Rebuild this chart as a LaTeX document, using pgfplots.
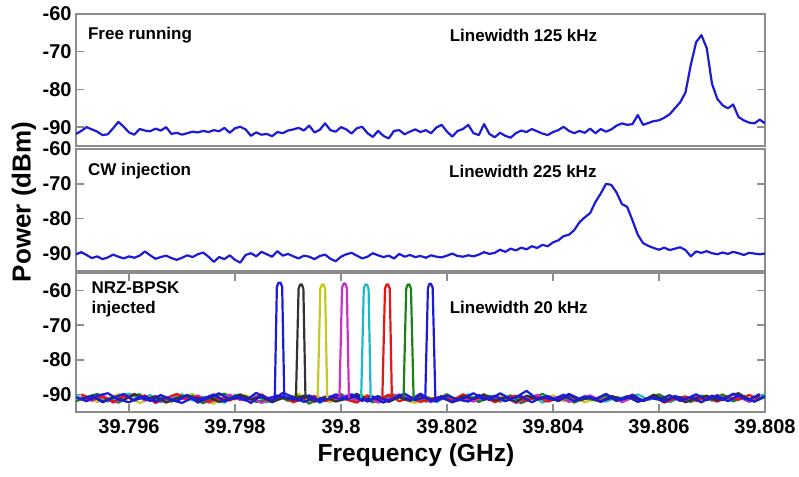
\documentclass[border=0pt]{standalone}
\usepackage{fontspec}
\setmainfont{Liberation Sans}
\usepackage{pgfplots}
\usepackage{pgfplotstable}
\pgfplotsset{compat=1.18}

\definecolor{mblue}{RGB}{28,28,215}
\definecolor{mblack}{RGB}{50,50,50}
\definecolor{myellow}{RGB}{200,200,30}
\definecolor{mmagenta}{RGB}{200,50,200}
\definecolor{mcyan}{RGB}{30,185,195}
\definecolor{mred}{RGB}{235,20,20}
\definecolor{mgreen}{RGB}{25,130,25}

% frequency as offset from 39.8 GHz, in MHz
% panel 1: free running
\pgfplotstableread{
y
-91.8
-91.0
-90.0
-90.6
-91.2
-92.1
-91.9
-90.3
-88.6
-89.9
-91.4
-92.0
-90.5
-90.9
-91.1
-90.4
-90.9
-90.0
-91.8
-91.5
-92.0
-91.6
-91.2
-91.4
-91.0
-91.3
-90.8
-91.1
-90.2
-91.5
-90.3
-89.9
-90.6
-92.3
-91.4
-92.0
-91.8
-92.4
-91.3
-91.6
-90.9
-90.6
-90.2
-90.9
-89.6
-91.4
-90.7
-89.0
-90.8
-91.2
-90.0
-90.6
-91.7
-90.3
-89.9
-91.6
-92.6
-91.0
-92.3
-93.0
-91.0
-90.8
-91.9
-91.2
-90.6
-91.3
-90.8
-91.6
-90.1
-89.4
-91.2
-92.5
-91.0
-90.5
-89.4
-91.6
-92.1
-89.2
-91.8
-92.7
-91.5
-92.3
-92.8
-91.6
-90.9
-91.3
-90.5
-91.1
-91.7
-92.1
-91.3
-90.8
-89.9
-91.0
-91.6
-91.0
-91.5
-90.4
-91.6
-90.5
-91.2
-90.6
-89.6
-89.0
-89.4
-89.2
-86.8
-89.4
-88.9
-88.4
-88.2
-87.5
-86.6
-85.0
-83.4
-80.8
-73.5
-67.5
-65.6
-69.0
-78.5
-82.5
-84.2
-85.0
-84.0
-87.3
-88.2
-88.8
-89.0
-88.0
-89.0
}\tabfree

% panel 2: CW injection
\pgfplotstableread{
y
-90.2
-89.6
-90.4
-91.3
-90.8
-91.6
-91.1
-90.3
-90.9
-91.4
-90.8
-91.2
-90.6
-89.4
-90.5
-91.5
-91.0
-90.6
-91.3
-91.8
-91.2
-90.5
-91.0
-90.2
-89.7
-90.9
-92.4
-91.0
-91.6
-90.5
-91.8
-92.6
-90.4
-89.9
-90.8
-89.5
-90.2
-90.9
-89.3
-90.6
-90.1
-90.8
-91.4
-90.6
-90.9
-91.6
-90.7
-90.3
-91.5
-92.2
-90.9
-90.2
-89.8
-90.6
-91.4
-90.9
-89.9
-90.5
-91.0
-90.6
-91.4
-90.1
-90.9
-90.4
-91.0
-90.7
-91.2
-90.5
-90.9
-91.1
-90.6
-90.0
-90.7
-90.9
-90.5
-90.8
-90.3
-89.6
-90.1
-89.8
-88.9
-89.5
-88.6
-89.1
-88.3
-88.8
-87.9
-88.4
-87.5
-87.9
-86.8
-86.2
-85.0
-84.6
-83.3
-81.0
-79.6
-78.4
-75.2
-72.8
-70.0
-70.3
-72.5
-75.8
-76.6
-80.5
-84.6
-87.0
-87.8
-88.4
-88.9
-88.3
-89.0
-88.6
-88.2
-89.0
-90.8
-89.4
-89.8
-89.3
-89.9
-90.2
-89.7
-90.1
-89.5
-89.9
-90.4
-89.8
-90.0
-90.2
-90.0
}\tabcw

% panel 3: noise floors of the eight injected traces
\pgfplotstableread{
x     b1    ye    cy    gr
-5.0 -90.8 -91.5 -90.2 -91.9
-4.8 -91.9 -90.4 -91.6 -90.7
-4.6 -90.3 -92.1 -90.9 -89.8
-4.4 -89.6 -91.0 -92.0 -91.2
-4.2 -91.4 -89.9 -90.5 -92.3
-4.0 -92.2 -90.8 -89.7 -90.6
-3.8 -90.7 -92.4 -91.3 -89.9
-3.6 -91.8 -91.2 -90.1 -91.7
-3.4 -90.1 -90.3 -92.2 -90.9
-3.2 -91.5 -91.8 -90.8 -92.0
-3.0 -92.4 -90.6 -89.9 -91.1
-2.8 -90.9 -89.8 -91.7 -90.3
-2.6 -91.2 -91.9 -90.6 -92.5
-2.4 -89.9 -92.6 -91.4 -90.8
-2.2 -92.0 -90.7 -92.3 -89.7
-2.0 -90.6 -91.4 -90.0 -91.3
-1.8 -91.7 -90.2 -91.1 -90.5
-1.6 -89.5 -91.6 -90.4 -92.1
-1.4 -91.1 -92.3 -92.1 -91.6
-1.2 -90.4 -90.5 -91.5 -90.2
-1.0 -90.9 -91.1 -90.7 -91.8
-0.8 -91.6 -89.7 -91.9 -90.4
-0.6 -90.2 -91.9 -90.3 -92.6
-0.4 -92.1 -90.9 -92.4 -90.9
-0.2 -90.5 -92.2 -90.9 -91.4
 0.0 -91.3 -90.4 -91.2 -89.8
 0.2 -90.0 -91.7 -89.8 -91.9
 0.4 -91.8 -90.1 -91.6 -90.6
 0.6 -90.6 -92.0 -90.5 -92.2
 0.8 -92.3 -91.3 -92.0 -91.0
 1.0 -91.0 -90.0 -91.3 -90.1
 1.2 -89.7 -91.5 -90.2 -91.5
 1.4 -91.5 -92.4 -91.8 -90.7
 1.6 -90.8 -90.6 -90.6 -92.0
 1.8 -91.9 -91.2 -92.2 -91.3
 2.0 -90.3 -89.9 -90.4 -89.9
 2.2 -91.4 -91.8 -91.5 -91.7
 2.4 -92.0 -90.5 -89.9 -90.8
 2.6 -90.1 -92.1 -91.7 -92.1
 2.8 -91.6 -91.0 -90.3 -90.4
 3.0 -89.6 -90.3 -92.1 -91.6
 3.2 -91.2 -91.7 -90.8 -90.2
 3.4 -90.4 -92.5 -91.4 -92.4
 3.6 -92.2 -90.8 -90.1 -91.1
 3.8 -90.7 -91.4 -92.3 -89.8
 4.0 -91.5 -90.2 -91.0 -91.4
 4.2 -90.0 -91.9 -90.5 -90.6
 4.4 -91.9 -90.6 -91.9 -92.3
 4.6 -90.6 -92.2 -90.3 -90.9
 4.8 -91.3 -91.1 -91.6 -91.7
 5.0 -89.8 -89.8 -92.0 -90.3
 5.2 -91.7 -91.6 -90.7 -91.9
 5.4 -90.5 -90.4 -91.2 -90.5
 5.6 -92.1 -92.0 -89.9 -92.0
 5.8 -90.9 -90.9 -91.5 -91.2
 6.0 -91.4 -91.5 -90.6 -89.9
 6.2 -90.2 -90.1 -92.2 -91.6
 6.4 -91.8 -91.8 -90.9 -90.8
 6.6 -90.7 -90.7 -91.3 -92.1
 6.8 -92.2 -92.3 -90.2 -90.6
 7.0 -90.3 -90.9 -91.8 -91.5
 7.2 -91.6 -89.9 -90.5 -90.0
 7.4 -89.7 -91.4 -92.0 -91.8
 7.6 -91.1 -90.6 -90.8 -90.4
 7.8 -92.0 -91.9 -91.5 -92.0
 8.0 -90.4 -90.5 -89.9 -90.7
}\tabA

\pgfplotstableread{
x     bk    mg    rd    b2
-4.9 -91.2 -90.6 -89.9 -91.6
-4.7 -90.4 -91.8 -91.4 -90.3
-4.5 -92.0 -90.1 -90.7 -92.2
-4.3 -90.8 -92.3 -92.1 -90.9
-4.1 -91.6 -91.0 -90.4 -89.8
-3.9 -89.8 -89.9 -91.6 -91.7
-3.7 -91.3 -91.7 -90.2 -90.5
-3.5 -90.5 -90.4 -92.4 -92.0
-3.3 -92.3 -92.0 -91.0 -90.8
-3.1 -91.0 -90.8 -89.8 -91.9
-2.9 -90.2 -91.5 -91.3 -90.1
-2.7 -91.7 -90.2 -90.6 -92.3
-2.5 -90.6 -92.2 -92.0 -91.0
-2.3 -92.1 -91.3 -90.9 -89.6
-2.1 -91.1 -90.0 -91.7 -91.4
-1.9 -89.9 -91.6 -90.3 -90.6
-1.7 -91.4 -90.7 -91.5 -92.4
-1.5 -90.7 -92.4 -89.9 -90.2
-1.3 -92.2 -91.1 -91.8 -91.8
-1.1 -90.9 -90.3 -90.5 -89.5
-0.9 -91.5 -91.9 -92.2 -90.7
-0.7 -90.3 -90.5 -91.1 -92.1
-0.5 -91.9 -92.1 -90.4 -90.9
-0.3 -90.6 -90.9 -91.9 -91.5
-0.1 -92.0 -91.4 -90.7 -89.9
 0.1 -91.2 -90.2 -91.4 -91.3
 0.3 -89.8 -91.8 -92.3 -90.4
 0.5 -91.6 -90.6 -90.2 -92.0
 0.7 -90.4 -92.3 -91.6 -90.6
 0.9 -92.1 -91.1 -90.0 -91.8
 1.1 -90.7 -89.9 -91.9 -90.2
 1.3 -91.8 -91.5 -90.8 -91.6
 1.5 -90.2 -90.8 -92.1 -89.7
 1.7 -91.5 -92.2 -91.2 -91.9
 1.9 -90.9 -90.4 -90.5 -90.5
 2.1 -92.2 -91.7 -91.7 -92.2
 2.3 -90.5 -90.9 -89.9 -91.1
 2.5 -91.3 -92.0 -91.3 -89.6
 2.7 -89.9 -90.3 -90.6 -91.5
 2.9 -91.7 -91.4 -92.2 -90.3
 3.1 -90.8 -90.7 -91.0 -91.9
 3.3 -92.1 -92.4 -90.3 -90.8
 3.5 -90.3 -91.2 -91.8 -88.9
 3.7 -91.4 -90.1 -90.7 -91.3
 3.9 -90.6 -91.8 -92.0 -90.4
 4.1 -91.9 -90.6 -91.1 -91.7
 4.3 -90.1 -92.1 -90.2 -89.8
 4.5 -91.6 -91.0 -91.6 -91.2
 4.7 -90.9 -90.2 -90.8 -90.6
 4.9 -92.0 -91.7 -92.1 -92.0
 5.1 -90.4 -90.5 -90.4 -90.9
 5.3 -91.3 -92.2 -91.4 -91.5
 5.5 -90.7 -90.9 -90.0 -90.1
 5.7 -91.8 -91.6 -91.9 -91.8
 5.9 -90.0 -90.3 -90.6 -90.7
 6.1 -91.5 -91.9 -92.3 -92.1
 6.3 -90.6 -90.8 -91.2 -90.4
 6.5 -92.2 -92.0 -90.5 -91.3
 6.7 -91.0 -90.4 -91.8 -89.9
 6.9 -90.3 -91.5 -90.9 -91.6
 7.1 -91.7 -90.1 -92.0 -90.3
 7.3 -90.5 -91.8 -90.7 -91.9
 7.5 -89.6 -90.6 -91.5 -90.2
 7.7 -91.4 -92.1 -90.1 -91.5
 7.9 -90.2 -90.7 -91.3 -89.8
}\tabB

\pgfplotsset{
  panel/.style={
    scale only axis, width=344.5pt,
    xmin=-5, xmax=8,
    axis line style={draw=black!45, line width=0.8pt},
    every tick/.style={black!45, line width=0.7pt},
    major tick length=4pt,
    tick align=inside,
    ytick={-90,-80,-70,-60},
    yticklabels={-90,-80,-70,-60},
    yticklabel style={font=\bfseries\fontsize{10}{10}\selectfont, inner xsep=2pt},
    xticklabel style={font=\bfseries\fontsize{10}{10}\selectfont},
    every axis plot/.append style={line width=1.1pt, line join=round},
  },
}
\tikzset{note/.style={font=\bfseries\fontsize{8.5}{10}\selectfont, anchor=west, inner sep=0pt}}

\begin{document}
\begin{tikzpicture}
% top: free running
\begin{axis}[panel, at={(38pt,165.5pt)}, anchor=south west, height=66pt,
  ymin=-95, ymax=-60, xtick=\empty]
\addplot[mblue] table[x expr=\coordindex/10-5, y=y]{\tabfree};
\node[note] at (rel axis cs:0.017,0.84) {Free running};
\node[note] at (rel axis cs:0.542,0.84) {Linewidth 125 kHz};
\end{axis}
% middle: CW injection
\begin{axis}[panel, at={(38pt,103pt)}, anchor=south west, height=61pt,
  ymin=-95, ymax=-60, xtick=\empty]
\addplot[mblue] table[x expr=\coordindex/10-5, y=y]{\tabcw};
\node[note] at (rel axis cs:0.017,0.82) {CW injection};
\node[note] at (rel axis cs:0.541,0.82) {Linewidth 225 kHz};
\end{axis}
% bottom: NRZ-BPSK injected
\begin{axis}[panel, at={(38pt,32.5pt)}, anchor=south west, height=69.5pt,
  ymin=-95, ymax=-55,
  xtick={-4,-2,0,2,4,6,8},
  xticklabels={39.796,39.798,39.8,39.802,39.804,39.806,39.808}]
\addplot[myellow]  table[x=x, y=ye]{\tabA};
\addplot[mcyan]    table[x=x, y=cy]{\tabA};
\addplot[mgreen]   table[x=x, y=gr]{\tabA};
\addplot[mmagenta] table[x=x, y=mg]{\tabB};
\addplot[mred]     table[x=x, y=rd]{\tabB};
\addplot[mblack]   table[x=x, y=bk]{\tabB};
\addplot[mblue]    table[x=x, y=b1]{\tabA};
\addplot[mblue]    table[x=x, y=b2]{\tabB};
% the eight injected lines
\addplot[mblue]    coordinates {(-1.25,-91) (-1.21,-59) (-1.18,-57.8) (-1.14,-57.8) (-1.11,-59) (-1.07,-91)};
\addplot[mblack]   coordinates {(-0.85,-91) (-0.80,-59.5) (-0.77,-58.3) (-0.74,-58.3) (-0.71,-59.5) (-0.67,-91)};
\addplot[myellow]  coordinates {(-0.44,-91) (-0.39,-59.5) (-0.36,-58.3) (-0.33,-58.3) (-0.30,-59.5) (-0.26,-91)};
\addplot[mmagenta] coordinates {(-0.03,-91) (0.02,-59.3) (0.05,-58.0) (0.08,-58.0) (0.11,-59.3) (0.15,-91)};
\addplot[mcyan]    coordinates {(0.38,-91) (0.43,-59.5) (0.46,-58.3) (0.49,-58.3) (0.52,-59.5) (0.56,-91)};
\addplot[mred]     coordinates {(0.78,-91) (0.83,-59.5) (0.86,-58.3) (0.89,-58.3) (0.92,-59.5) (0.96,-91)};
\addplot[mgreen]   coordinates {(1.18,-91) (1.23,-59.5) (1.26,-58.3) (1.29,-58.3) (1.32,-59.5) (1.37,-91)};
\addplot[mblue]    coordinates {(1.59,-91) (1.64,-59.3) (1.67,-58.1) (1.70,-58.1) (1.73,-59.3) (1.78,-91)};
\node[note, align=left] at (rel axis cs:0.022,0.81) {NRZ-BPSK\\injected};
\node[note] at (rel axis cs:0.542,0.755) {Linewidth 20 kHz};
\end{axis}
% axis titles
\node[rotate=90, font=\bfseries\fontsize{13}{13}\selectfont] at (12pt,137.5pt) {Power (dBm)};
\node[font=\bfseries\fontsize{12.3}{13}\selectfont] at (208pt,11pt) {Frequency (GHz)};
\pgfresetboundingbox
\path[use as bounding box] (0,0) rectangle (399.5pt,238.5pt);
\end{tikzpicture}
\end{document}
